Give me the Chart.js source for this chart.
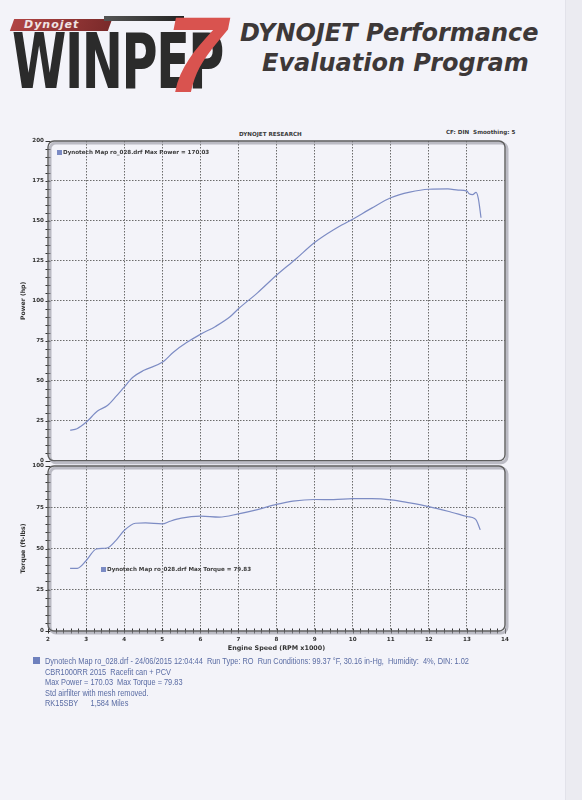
<!DOCTYPE html>
<html>
<head>
<meta charset="utf-8">
<script src="https://cdn.jsdelivr.net/npm/chart.js@4.4.0/dist/chart.umd.min.js"></script>
<style>
  body { margin: 0; background: #f3f3f9; }
  #page { position: relative; width: 582px; height: 800px; overflow: hidden; background: #f3f3f9; }
  #edge { position: absolute; left: 565px; top: 0; width: 17px; height: 800px; background: #ebebf1; border-left: 1px solid #e2e2ea; }
  .abs { position: absolute; white-space: nowrap; }
  #djbar { left: 12px; top: 19px; width: 98px; height: 12px; background: linear-gradient(to right, #b04444, #7a2a2a); transform: skewX(-20deg); }
  #djtext { left: 24px; top: 18px; font: italic bold 11px "DejaVu Sans", sans-serif; color: #f0e4e4; letter-spacing: 1px; }
  #swoosh { left: 104px; top: 16px; width: 80px; height: 5px; background: linear-gradient(to right, #555, #222); }
  #winpep { left: 12px; top: 17px; font: bold 76px "DejaVu Sans Condensed", "DejaVu Sans", sans-serif; color: #2b2b2b; transform: scaleX(0.72); transform-origin: left top; letter-spacing: -2px; }
  #seven { left: 166px; top: -8px; font: italic bold 108px "Liberation Sans", sans-serif; color: #d9534f; }
  .title { font: italic bold 24px "DejaVu Sans", sans-serif; color: #3d3838; }
  .small { font: bold 5.6px "DejaVu Sans", sans-serif; color: #3a3a3a; }
  .sq { display: inline-block; width: 5px; height: 5px; background: #7b8bc4; margin-right: 1px; vertical-align: -0.5px; }
  #footer { left: 33px; top: 656px; font: 8.6px "Liberation Sans", sans-serif; color: #5a6ca4; line-height: 10.6px; }
  #footer .fsq { position: absolute; left: 0; top: 1px; width: 7px; height: 7px; background: #6e80bd; }
  #footer .lines { margin-left: 12px; transform: scaleX(0.86); transform-origin: left top; }
  canvas { position: absolute; left: 0; }
</style>
</head>
<body>
<div id="page">
  <div id="edge"></div>
  <div id="djbar" class="abs"></div>
  <div id="swoosh" class="abs"></div>
  <div id="djtext" class="abs">Dynojet</div>
  <div id="winpep" class="abs">WINPEP</div>
  <div id="seven" class="abs">7</div>
  <div class="abs title" style="left:240px; top:19px;">DYNOJET Performance</div>
  <div class="abs title" style="left:262px; top:49px;">Evaluation Program</div>

  <div class="abs small" style="left:239px; top:131px;">DYNOJET RESEARCH</div>
  <div class="abs small" style="left:446px; top:129px;">CF: DIN&nbsp; Smoothing: 5</div>

  <canvas id="powerChart" style="top:128px;"></canvas>
  <canvas id="torqueChart" style="top:458px;"></canvas>

  <div class="abs small" style="left:57px; top:149px;"><span class="sq"></span>Dynotech Map ro_028.drf Max Power = 170.03</div>
  <div class="abs small" style="left:101px; top:566px;"><span class="sq"></span>Dynotech Map ro_028.drf Max Torque = 79.83</div>

  <div id="footer" class="abs">
    <div class="fsq"></div>
    <div class="lines">
      <div>Dynotech Map ro_028.drf - 24/06/2015 12:04:44&nbsp; Run Type: RO&nbsp; Run Conditions: 99.37 °F, 30.16 in-Hg,&nbsp; Humidity:&nbsp; 4%, DIN: 1.02</div>
      <div>CBR1000RR 2015&nbsp; Racefit can + PCV</div>
      <div>Max Power = 170.03&nbsp; Max Torque = 79.83</div>
      <div>Std airfilter with mesh removed.</div>
      <div>RK15SBY&nbsp;&nbsp;&nbsp;&nbsp;&nbsp; 1,584 Miles</div>
    </div>
  </div>
</div>
<script>
// engine speed in rpm x1000
var powerRpm = [2.58, 2.76, 3.0, 3.3, 3.56, 3.78, 4.0, 4.22, 4.52, 5.0, 5.3, 5.65, 6.0, 6.4, 6.78, 7.0, 7.5, 8.0, 8.5, 9.0, 9.5, 10.0, 10.5, 11.0, 11.5, 12.0, 12.5, 12.77, 13.0, 13.06, 13.15, 13.24, 13.3, 13.37];
var powerHp = [19, 20, 24, 31, 34.5, 40, 46, 52, 56.5, 61.5, 68, 74, 79, 84, 90, 95, 105, 116, 126, 136.5, 144.5, 151, 158, 164.5, 168, 169.8, 170, 169.3, 168.6, 167, 166.5, 167.8, 164, 152];

var torqueRpm = [2.58, 2.77, 3.0, 3.27, 3.55, 3.78, 4.0, 4.3, 4.56, 5.0, 5.2, 5.5, 6.0, 6.5, 7.0, 7.5, 8.0, 8.43, 9.0, 9.5, 10.0, 10.5, 11.0, 11.5, 12.0, 12.5, 13.0, 13.2, 13.25, 13.35];
var torqueFtLb = [38, 38, 42.6, 49.7, 50.3, 54.8, 60.9, 65.3, 65.5, 64.9, 66.5, 68.4, 69.6, 69, 71, 73.6, 76.7, 78.7, 79.7, 79.6, 80.2, 80.2, 79.5, 77.6, 75.4, 72.6, 69.4, 68.2, 67, 61.3];

var rpmMin = 2, rpmMax = 14;
var powerMax = 200, torqueMax = 100;
var yLabelStep = 25;

var lineColor = "#7d8cc4";
var gridColor = "#6b6b6b";
var tickFont = { family: "DejaVu Sans", size: 5.6, weight: "bold" };

function points(xs, ys) {
  return xs.map(function (x, i) { return { x: x, y: ys[i] }; });
}
function isWhole(v, step) {
  var r = v / step;
  return Math.abs(r - Math.round(r)) < 1e-6;
}

// rounded frame with a soft shadow, plus small ticks crossing the axes
var framePlugin = {
  id: "frame",
  afterDraw: function (chart, args, opts) {
    var a = chart.chartArea, ctx = chart.ctx;
    ctx.save();
    ctx.lineWidth = 1;
    ctx.strokeStyle = "#333";
    ["x", "y"].forEach(function (id) {
      var s = chart.scales[id];
      if (id === "y" || opts.xTicks) {
        s.ticks.forEach(function (t) {
          var p = s.getPixelForValue(t.value);
          ctx.beginPath();
          if (id === "y") { ctx.moveTo(a.left - 2.5, Math.round(p) + 0.5); ctx.lineTo(a.left + 2.5, Math.round(p) + 0.5); }
          else { ctx.moveTo(Math.round(p) + 0.5, a.bottom - 2.5); ctx.lineTo(Math.round(p) + 0.5, a.bottom + 2.5); }
          ctx.stroke();
        });
      }
    });
    var w = a.right - a.left, h = a.bottom - a.top;
    ctx.lineWidth = 3;
    ctx.strokeStyle = "rgba(150,150,160,0.6)";
    ctx.beginPath();
    ctx.roundRect(a.left + 2, a.top + 2, w, h, 6);
    ctx.stroke();
    ctx.lineWidth = 1.4;
    ctx.strokeStyle = "#5e5e5e";
    ctx.beginPath();
    ctx.roundRect(a.left, a.top, w, h, 6);
    ctx.stroke();
    ctx.restore();
  }
};

function makeChart(id, width, height, data, yMax, yTitle, pad, showX) {
  var cv = document.getElementById(id);
  cv.width = width; cv.height = height;
  cv.style.width = width + "px"; cv.style.height = height + "px";
  return new Chart(cv.getContext("2d"), {
    type: "line",
    data: {
      datasets: [{
        data: data,
        borderColor: lineColor,
        borderWidth: 1.2,
        pointRadius: 0,
        cubicInterpolationMode: "monotone",
        fill: false
      }]
    },
    options: {
      responsive: false,
      animation: false,
      layout: { padding: pad },
      plugins: { legend: { display: false }, tooltip: { enabled: false }, frame: { xTicks: showX } },
      scales: {
        x: {
          type: "linear",
          min: rpmMin,
          max: rpmMax,
          afterFit: function (s) { s.height = showX ? 27 : 0; },
          ticks: {
            display: showX,
            stepSize: showX ? 0.2 : 1,
            autoSkip: false,
            maxRotation: 0,
            padding: 5,
            color: "#333",
            font: tickFont,
            callback: function (v) { return isWhole(v, 1) ? String(Math.round(v)) : ""; }
          },
          grid: {
            drawTicks: false,
            lineWidth: 1,
            color: function (c) {
              var v = c.tick ? c.tick.value : 0;
              return isWhole(v, 1) && v > rpmMin && v < rpmMax ? gridColor : "rgba(0,0,0,0)";
            }
          },
          border: { display: false, dash: [1.5, 1.5] },
          title: {
            display: showX,
            text: "Engine Speed (RPM x1000)",
            color: "#333",
            font: { family: "DejaVu Sans", size: 6.4, weight: "bold" },
            padding: { top: 0, bottom: 6 }
          }
        },
        y: {
          min: 0,
          max: yMax,
          afterFit: function (s) { s.width = 48; },
          ticks: {
            stepSize: 5,
            autoSkip: false,
            padding: 4,
            color: "#333",
            font: tickFont,
            callback: function (v) { return isWhole(v, yLabelStep) ? String(v) : ""; }
          },
          grid: {
            drawTicks: false,
            lineWidth: 1,
            color: function (c) {
              var v = c.tick ? c.tick.value : 0;
              return isWhole(v, yLabelStep) && v > 0 && v < yMax ? gridColor : "rgba(0,0,0,0)";
            }
          },
          border: { display: false, dash: [1.5, 1.5] },
          title: {
            display: true,
            text: yTitle,
            color: "#333",
            font: { family: "DejaVu Sans", size: 6.2, weight: "bold" },
            padding: { top: 20, bottom: 0 }
          }
        }
      }
    },
    plugins: [framePlugin]
  });
}

makeChart("powerChart", 515, 340, points(powerRpm, powerHp), powerMax, "Power (hp)",
  { left: 0, right: 10, top: 13, bottom: 7 }, false);
makeChart("torqueChart", 515, 200, points(torqueRpm, torqueFtLb), torqueMax, "Torque (ft-lbs)",
  { left: 0, right: 10, top: 8, bottom: 0 }, true);
</script>
</body>
</html>
